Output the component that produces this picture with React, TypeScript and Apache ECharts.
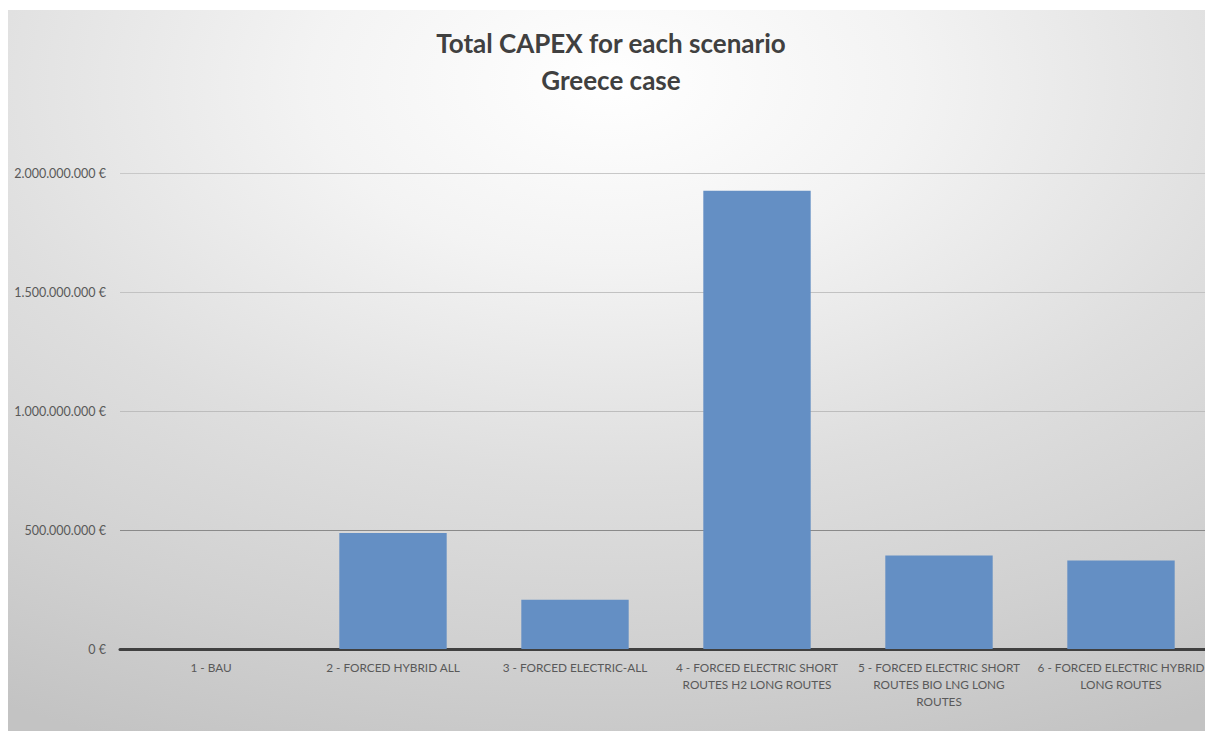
import React, { useEffect, useRef } from "react";
import * as echarts from "echarts";

// Scenario names (line breaks follow the axis label wrapping)
const categories: string[] = [
  "1 - BAU",
  "2 - FORCED HYBRID ALL",
  "3 - FORCED ELECTRIC-ALL",
  "4 - FORCED ELECTRIC SHORT\nROUTES H2 LONG ROUTES",
  "5 - FORCED ELECTRIC SHORT\nROUTES BIO LNG LONG\nROUTES",
  "6 - FORCED ELECTRIC HYBRID\nLONG ROUTES",
];

// Total CAPEX per scenario, in euro
const capex: number[] = [0, 487000000, 207000000, 1925000000, 393000000, 372000000];

// Value axis ticks
const yMin = 0;
const yMax = 2000000000;
const yStep = 500000000;

const titleLines: string[] = ["Total CAPEX for each scenario", "Greece case"];

const formatEuro = (v: number): string =>
  String(Math.round(v)).replace(/\B(?=(\d{3})+(?!\d))/g, ".") + " €";

export default function App() {
  const ref = useRef<HTMLDivElement>(null);

  useEffect(() => {
    if (!ref.current) return;
    const chart = echarts.init(ref.current, undefined, { renderer: "svg" });
    chart.setOption({
      animation: false,
      backgroundColor: {
        type: "radial",
        x: 0.5,
        y: 0.1,
        r: 1.0,
        colorStops: [
          { offset: 0, color: "#ffffff" },
          { offset: 0.25, color: "#f3f3f3" },
          { offset: 0.55, color: "#dedede" },
          { offset: 0.8, color: "#d0d0d0" },
          { offset: 1, color: "#c3c3c3" },
        ],
      },
      title: {
        text: titleLines.join("\n"),
        left: "center",
        top: 9,
        textStyle: {
          fontFamily: "Lato",
          fontWeight: "bold",
          fontSize: 26,
          lineHeight: 37,
          color: "#404040",
        },
      },
      grid: { left: 112, right: 2, top: 163, bottom: 82 },
      xAxis: {
        type: "category",
        data: categories,
        axisLine: { show: true, lineStyle: { color: "#404040", width: 3 } },
        axisTick: { show: false },
        axisLabel: {
          interval: 0,
          margin: 10,
          fontFamily: "Lato",
          fontSize: 11.8,
          lineHeight: 17,
          color: "#595959",
          align: "center",
        },
      },
      yAxis: {
        type: "value",
        min: yMin,
        max: yMax,
        interval: yStep,
        axisLine: { show: false },
        axisTick: { show: false },
        axisLabel: {
          margin: 14,
          fontFamily: "Lato",
          fontSize: 12.5,
          color: "#595959",
          formatter: (v: number) => formatEuro(v),
        },
        splitLine: {
          show: true,
          lineStyle: {
            width: 1,
            color: ["#8a8a8a", "#8a8a8a", "#bdbdbd", "#c2c2c2", "#c8c8c8"],
          },
        },
      },
      series: [
        {
          type: "bar",
          data: capex,
          barCategoryGap: "41%",
          itemStyle: { color: "#648fc4" },
        },
      ],
    });
    return () => chart.dispose();
  }, []);

  return (
    <div
      style={{
        position: "fixed",
        left: 0,
        top: 0,
        right: 0,
        bottom: 0,
        overflow: "hidden",
        background: "#ffffff",
      }}
    >
      <div
        ref={ref}
        style={{ position: "absolute", left: 8, top: 10, width: 1206, height: 721 }}
      />
    </div>
  );
}
